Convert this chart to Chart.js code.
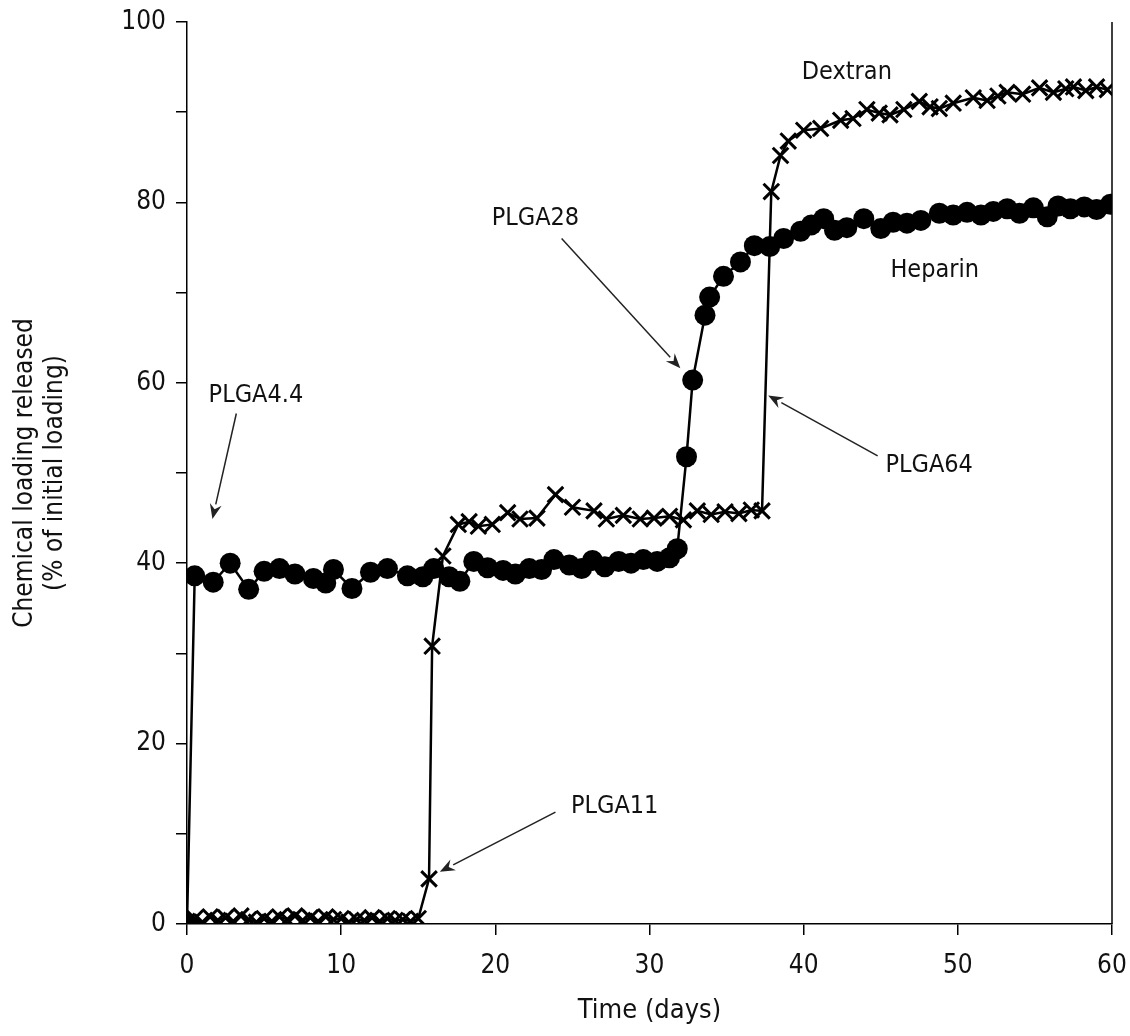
<!DOCTYPE html>
<html>
<head>
<meta charset="utf-8">
<title>Chemical loading released</title>
<script src="https://cdn.jsdelivr.net/npm/chart.js@4.4.1/dist/chart.umd.min.js"></script>
<style>
  html, body { margin: 0; padding: 0; background: #fff; }
  #wrap { width: 1130px; height: 1036px; }
</style>
</head>
<body>
<div id="wrap"><canvas id="releaseChart" width="1130" height="1036"></canvas></div>
<script>
// Heparin (filled circles)
const heparinDays = [0, 0.5, 1.7, 2.8, 4.0, 5.0, 6.0, 7.0, 8.2, 9.0, 9.5, 10.7, 11.9, 13.0, 14.3, 15.3,
  16.0, 17.0, 17.7, 18.6, 19.5, 20.5, 21.3, 22.2, 23.0, 23.8, 24.8, 25.6, 26.3, 27.1, 28.0, 28.8,
  29.6, 30.5, 31.3, 31.8, 32.4, 32.8, 33.6, 33.9, 34.8, 35.9, 36.8, 37.8, 38.7, 39.8, 40.5, 41.3,
  42.0, 42.8, 43.9, 45.0, 45.8, 46.7, 47.6, 48.8, 49.7, 50.6, 51.5, 52.3, 53.2, 54.0, 54.9, 55.8,
  56.5, 57.3, 58.2, 59.0, 59.9];
const heparinValues = [0, 38.6, 37.9, 40.0, 37.1, 39.1, 39.4, 38.8, 38.3, 37.8, 39.3, 37.2, 39.0, 39.4, 38.6, 38.5,
  39.4, 38.5, 38.0, 40.2, 39.5, 39.2, 38.8, 39.4, 39.3, 40.4, 39.8, 39.4, 40.3, 39.6, 40.2, 40.0,
  40.4, 40.2, 40.6, 41.6, 51.8, 60.3, 67.5, 69.5, 71.8, 73.4, 75.2, 75.1, 76.0, 76.8, 77.5, 78.2,
  76.9, 77.2, 78.2, 77.1, 77.8, 77.7, 78.0, 78.8, 78.6, 78.9, 78.6, 79.0, 79.3, 78.8, 79.4, 78.4,
  79.6, 79.3, 79.5, 79.2, 79.8];

// Dextran (crosses)
const dextranDays = [0, 0.5, 1, 1.5, 2, 2.5, 3, 3.5, 4, 4.5, 5, 5.5, 6, 6.5, 7, 7.5, 8, 8.5, 9, 9.5,
  10, 10.5, 11, 11.5, 12, 12.5, 13, 13.5, 14, 14.5, 15, 15.7, 15.9, 16.6, 17.6, 18.3, 18.9, 19.8,
  20.8, 21.6, 22.7, 23.9, 25.0, 26.4, 27.2, 28.3, 29.4, 30.3, 31.3, 32.2, 33.1, 34.0, 34.9, 35.8,
  36.6, 37.3, 37.9, 38.5, 39.0, 40.0, 41.1, 42.4, 43.2, 44.1, 44.9, 45.6, 46.5, 47.5, 48.2, 48.8,
  49.7, 51.0, 51.9, 52.6, 53.2, 54.2, 55.3, 56.2, 57.0, 57.5, 58.3, 59.0, 59.7];
const dextranValues = [0.3, 0.6, 0.2, 0.8, 0.4, 0.7, 0.3, 0.9, 0.5, 0.2, 0.6, 0.3, 0.8, 0.5, 0.9, 0.4, 0.7, 0.3, 0.8, 0.5,
  0.6, 0.2, 0.5, 0.4, 0.7, 0.3, 0.6, 0.4, 0.5, 0.3, 0.6, 5.0, 30.8, 40.8, 44.3, 44.6, 44.1, 44.3,
  45.6, 44.9, 45.0, 47.6, 46.2, 45.8, 44.9, 45.3, 44.9, 45.0, 45.2, 44.8, 45.8, 45.4, 45.7, 45.5,
  45.9, 45.8, 81.2, 85.2, 86.8, 88.0, 88.2, 89.1, 89.3, 90.3, 89.9, 89.7, 90.3, 91.2, 90.6, 90.4,
  91.0, 91.6, 91.3, 91.8, 92.2, 92.0, 92.7, 92.2, 92.6, 92.8, 92.4, 92.8, 92.5];

const xTicks = [0, 10, 20, 30, 40, 50, 60];
const yLabelTicks = [0, 20, 40, 60, 80, 100];

// text labels and arrows, in data units
const labels = [
  { text: 'PLGA4.4', x: 1.4, y: 58.6, align: 'left' },
  { text: 'PLGA28', x: 22.6, y: 78.2, align: 'center' },
  { text: 'PLGA64', x: 45.3, y: 50.8, align: 'left' },
  { text: 'PLGA11', x: 24.9, y: 13.0, align: 'left' },
  { text: 'Dextran', x: 42.8, y: 94.4, align: 'center' },
  { text: 'Heparin', x: 48.5, y: 72.4, align: 'center' }
];
const arrows = [
  { from: [3.2, 56.6], to: [1.65, 44.9] },
  { from: [24.3, 76.0], to: [32.0, 61.6] },
  { from: [44.8, 51.9], to: [37.7, 58.6] },
  { from: [23.9, 12.4], to: [16.4, 5.8] }
];

const FONT = '"Liberation Sans Narrow", "DejaVu Sans Condensed", "Arial Narrow", sans-serif';
Chart.defaults.font.family = FONT;
Chart.defaults.color = '#111';

const toPoints = (xs, ys) => xs.map((x, i) => ({ x: x, y: ys[i] }));

const annotationPlugin = {
  id: 'annotations',
  afterDraw(chart) {
    const { ctx, chartArea, scales } = chart;
    const sx = v => scales.x.getPixelForValue(v);
    const sy = v => scales.y.getPixelForValue(v);
    ctx.save();
    // right frame line
    ctx.strokeStyle = '#000';
    ctx.lineWidth = 1.5;
    ctx.beginPath();
    ctx.moveTo(chartArea.right, chartArea.top);
    ctx.lineTo(chartArea.right, chartArea.bottom);
    ctx.stroke();

    ctx.font = '25px ' + FONT;
    ctx.fillStyle = '#111';
    ctx.textBaseline = 'middle';
    labels.forEach(l => {
      ctx.textAlign = l.align;
      ctx.fillText(l.text, sx(l.x), sy(l.y));
    });

    ctx.strokeStyle = '#222';
    ctx.fillStyle = '#222';
    ctx.lineWidth = 1.5;
    arrows.forEach(a => {
      const x1 = sx(a.from[0]), y1 = sy(a.from[1]);
      const x2 = sx(a.to[0]), y2 = sy(a.to[1]);
      const ang = Math.atan2(y2 - y1, x2 - x1);
      const len = 15, half = 6;
      const bx = x2 - len * Math.cos(ang), by = y2 - len * Math.sin(ang);
      ctx.beginPath();
      ctx.moveTo(x1, y1);
      ctx.lineTo(bx, by);
      ctx.stroke();
      ctx.beginPath();
      ctx.moveTo(x2, y2);
      ctx.lineTo(bx + half * Math.sin(ang), by - half * Math.cos(ang));
      ctx.lineTo(x2 - 10 * Math.cos(ang), y2 - 10 * Math.sin(ang));
      ctx.lineTo(bx - half * Math.sin(ang), by + half * Math.cos(ang));
      ctx.closePath();
      ctx.fill();
    });
    ctx.restore();
  }
};

new Chart(document.getElementById('releaseChart'), {
  type: 'scatter',
  data: {
    datasets: [
      {
        label: 'Dextran',
        data: toPoints(dextranDays, dextranValues),
        showLine: true,
        borderColor: '#000',
        backgroundColor: '#000',
        borderWidth: 2.5,
        pointStyle: 'crossRot',
        pointRadius: 11,
        pointBorderWidth: 3,
        tension: 0
      },
      {
        label: 'Heparin',
        data: toPoints(heparinDays, heparinValues),
        showLine: true,
        borderColor: '#000',
        backgroundColor: '#000',
        borderWidth: 2.5,
        pointStyle: 'circle',
        pointRadius: 10.5,
        pointBorderWidth: 0,
        tension: 0
      }
    ]
  },
  options: {
    responsive: false,
    animation: false,
    layout: { padding: { top: 22, right: 18, left: 0, bottom: 0 } },
    plugins: {
      legend: { display: false },
      tooltip: { enabled: false }
    },
    scales: {
      x: {
        type: 'linear',
        min: 0,
        max: 60,
        afterFit(scale) {
          scale.height = 112;
          scale.paddingLeft = 0;
          scale.paddingRight = 0;
        },
        afterBuildTicks(scale) { scale.ticks = xTicks.map(v => ({ value: v })); },
        ticks: { font: { size: 26 }, padding: 16, maxRotation: 0 },
        grid: { drawOnChartArea: false, drawTicks: true, tickLength: 11, color: '#000', lineWidth: 1.5 },
        border: { display: true, color: '#000', width: 1.5 },
        title: { display: true, text: 'Time (days)', font: { size: 27 }, padding: { top: 0, bottom: 9 } }
      },
      y: {
        type: 'linear',
        min: 0,
        max: 100,
        afterFit(scale) {
          scale.width = 187;
          scale.paddingTop = 0;
          scale.paddingBottom = 0;
        },
        ticks: {
          stepSize: 10,
          font: { size: 26 },
          padding: 10,
          callback: v => (yLabelTicks.includes(v) ? v : '')
        },
        grid: { drawOnChartArea: false, drawTicks: true, tickLength: 11, color: '#000', lineWidth: 1.5 },
        border: { display: true, color: '#000', width: 1.5 },
        title: {
          display: true,
          text: ['Chemical loading released', '(% of initial loading)'],
          font: { size: 26, lineHeight: 1.15 },
          padding: { top: 10, bottom: 0 }
        }
      }
    }
  },
  plugins: [annotationPlugin]
});
</script>
</body>
</html>
